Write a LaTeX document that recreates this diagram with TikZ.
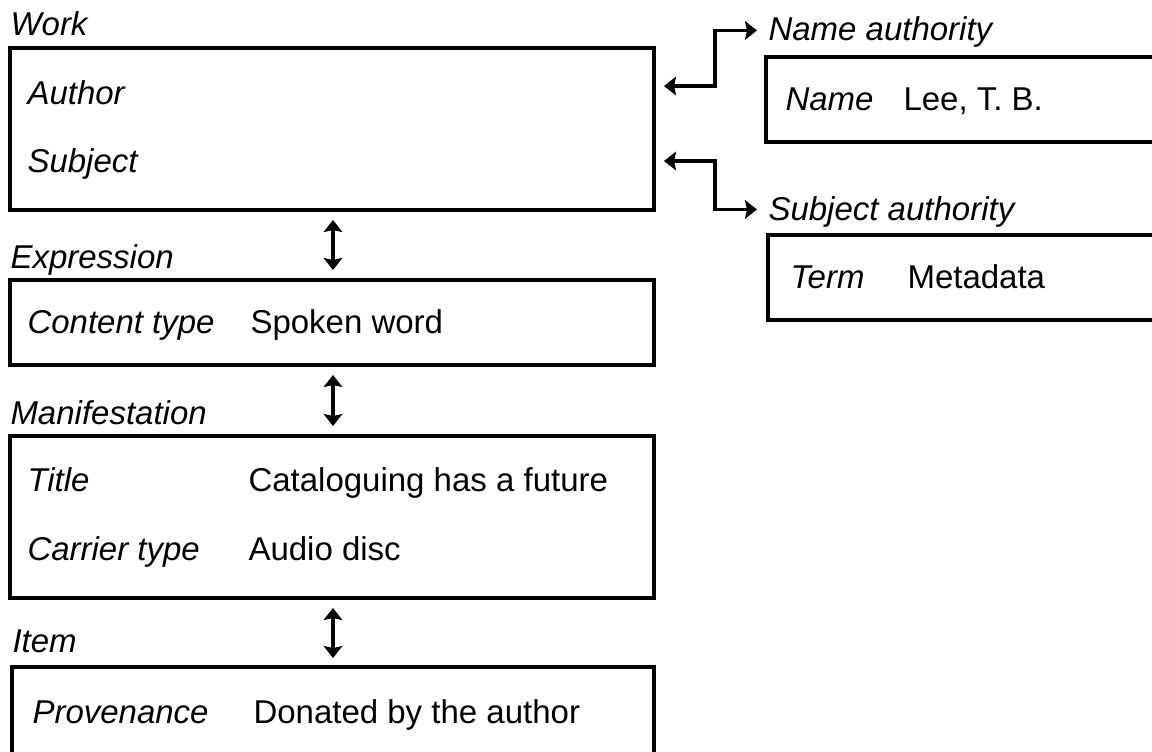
\documentclass[tikz,border=0pt]{standalone}
\usepackage{fontspec}
\setmainfont{Liberation Sans}
\usetikzlibrary{arrows.meta,calc}

\tikzset{every picture/.style={line width=0.75pt}}
\tikzset{
  recbox/.style={draw, line width=3pt, inner sep=0pt},
  entlbl/.style={anchor=base west, inner sep=0pt, font=\itshape},
  fldlbl/.style={anchor=base west, inner sep=0pt, font=\itshape},
  vallbl/.style={anchor=base west, inner sep=0pt},
  linkarr/.style={line width=2.5pt, {Stealth[length=9pt,width=14pt,inset=1.5pt]}-{Stealth[length=9pt,width=14pt,inset=1.5pt]}}
}

\begin{document}
\fontsize{24.75pt}{30pt}\selectfont
\begin{tikzpicture}[x=0.75pt,y=0.75pt,yscale=-1,xscale=1]
\useasboundingbox (0,0) rectangle (1152,751);
\clip (0,0) rectangle (1152,751);

%Shape: Rectangle [Work]
\node [recbox, minimum width=483pt, minimum height=121.5pt] (workbox) at (332,129) {};
% Text Node
\node [entlbl] (work) at (10,35) {Work};
\node [fldlbl] (author) at (27,104) {Author};
\node [fldlbl] (subject) at (27,172) {Subject};

%Shape: Rectangle [Expression]
\node [recbox, minimum width=483pt, minimum height=63.75pt] (exprbox) at (332,322.5) {};
% Text Node
\node [entlbl] (expr) at (10,268) {Expression};
\node [fldlbl] (contype) at (27,333) {Content type};
\node [vallbl] (spoken) at (250,333) {Spoken word};

%Shape: Rectangle [Manifestation]
\node [recbox, minimum width=483pt, minimum height=121.5pt] (manifbox) at (332,517) {};
% Text Node
\node [entlbl] (manif) at (10,424) {Manifestation};
\node [fldlbl] (title) at (27,491) {Title};
\node [vallbl] (catal) at (248,491) {Cataloguing has a future};
\node [fldlbl] (carrier) at (27,560) {Carrier type};
\node [vallbl] (audio) at (248,560) {Audio disc};

%Shape: Rectangle [Item]
\node [recbox, minimum width=481.5pt, minimum height=92.25pt] (itembox) at (333,728.5) {};
% Text Node
\node [entlbl] (item) at (12,652) {Item};
\node [fldlbl] (proven) at (32,723) {Provenance};
\node [vallbl] (donated) at (253,723) {Donated by the author};

%Shape: Rectangle [Name authority]
\node [recbox, minimum width=303pt, minimum height=63.75pt] (namebox) at (968,99.5) {};
% Text Node
\node [entlbl] (nameauth) at (768,40) {Name authority};
\node [fldlbl] (name) at (785,110) {Name};
\node [vallbl] (lee) at (903,110) {Lee, T. B.};

%Shape: Rectangle [Subject authority]
\node [recbox, minimum width=301.5pt, minimum height=63.75pt] (termbox) at (969,277.5) {};
% Text Node
\node [entlbl] (subjauth) at (768,220) {Subject authority};
\node [fldlbl] (term) at (790,288) {Term};
\node [vallbl] (metadata) at (907,288) {Metadata};

%Straight Lines [between entities]
\draw [linkarr] ($(workbox.south)+(1,8)$) -- ($(exprbox.north)+(1,-8)$);
\draw [linkarr] ($(exprbox.south)+(1,8)$) -- ($(manifbox.north)+(1,-8)$);
\draw [linkarr] ($(manifbox.south)+(1,8)$) -- ($(itembox.north)+(0,-7)$);

%Elbow Lines [to authorities]
\draw [linkarr] ($(workbox.north east)+(8,40)$) -- ++(51,0) |- ($(nameauth.west)+(-11,-1)$);
\draw [linkarr] ($(workbox.south east)+(8,-51)$) -- ++(51,0) |- ($(subjauth.west)+(-11,-2)$);

\end{tikzpicture}
\end{document}
